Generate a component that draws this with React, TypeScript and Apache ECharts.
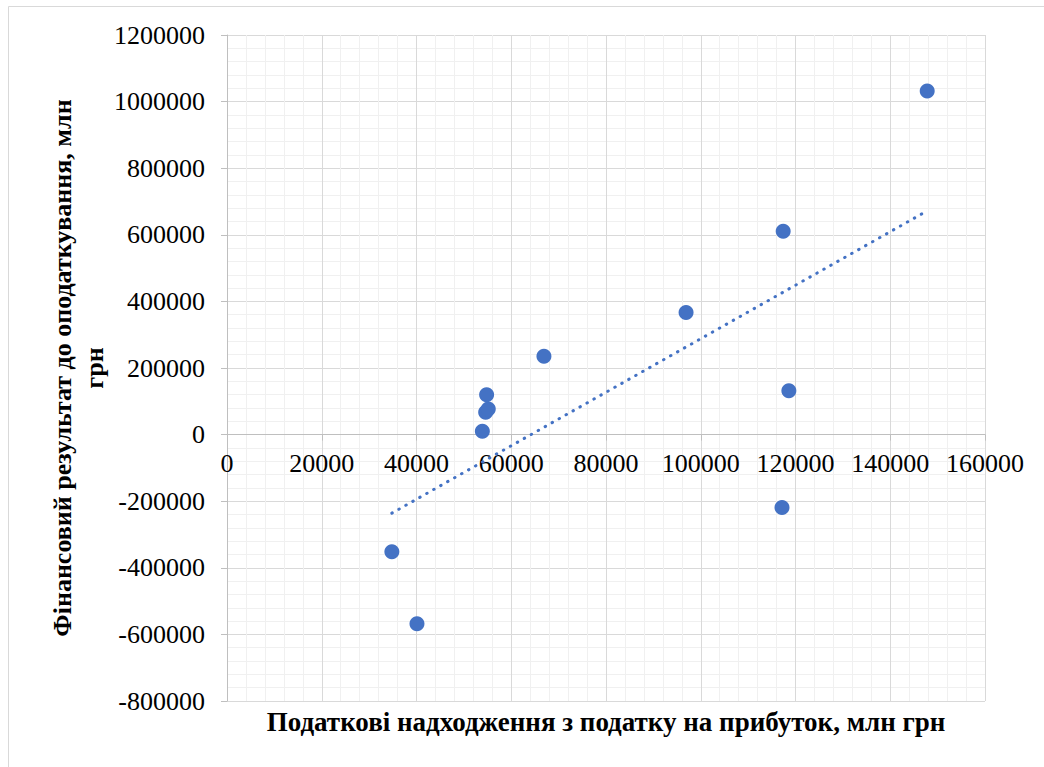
import React, { useEffect, useRef } from "react";
import * as echarts from "echarts";

const xValues = [34800, 40100, 53900, 54600, 55150, 54800, 66900, 96900, 117400, 118600, 117150, 147800];
const yValues = [-352000, -568000, 10000, 67000, 77000, 120000, 235000, 367000, 611000, 132000, -219000, 1032000];

const xTicks = { min: 0, max: 160000, interval: 20000 };
const yTicks = { min: -800000, max: 1200000, interval: 200000 };

const xTitle = "Податкові надходження з податку на прибуток, млн грн";
const yTitle = "Фінансовий результат до оподаткування, млн\nгрн";

const COLOR = "#4472C4";
const FONT = "'Liberation Serif', 'Times New Roman', serif";

function trend(xs: number[], ys: number[]) {
  const n = xs.length;
  const mx = xs.reduce((a, b) => a + b, 0) / n;
  const my = ys.reduce((a, b) => a + b, 0) / n;
  let sxy = 0, sxx = 0;
  for (let i = 0; i < n; i++) {
    sxy += (xs[i] - mx) * (ys[i] - my);
    sxx += (xs[i] - mx) * (xs[i] - mx);
  }
  const b = sxy / sxx;
  const a = my - b * mx;
  const x0 = Math.min(...xs);
  const x1 = Math.max(...xs);
  return [[x0, a + b * x0], [x1, a + b * x1]];
}

const GRID_TOP = 35;
const GRID_BOTTOM = 66;
const GRID_H = 767 - GRID_TOP - GRID_BOTTOM;

export default function App() {
  const ref = useRef<HTMLDivElement>(null);
  useEffect(() => {
    if (!ref.current) return;
    const chart = echarts.init(ref.current, null, { renderer: "svg" });
    const zeroOffset = -((0 - yTicks.min) / (yTicks.max - yTicks.min)) * GRID_H;
    const axisCommon = {
      type: "value" as const,
      axisLine: { show: true, onZero: false, lineStyle: { color: "#bfbfbf", width: 1 } },
      axisTick: { show: true, length: 6, lineStyle: { color: "#bfbfbf" } },
      axisLabel: {
        color: "#000",
        fontFamily: FONT,
        fontSize: 26,
        formatter: (v: number) => String(v),
      },
      splitLine: { show: true, lineStyle: { color: "#d9d9d9", width: 1 } },
      minorTick: { show: false, splitNumber: 5 },
      minorSplitLine: { show: true, lineStyle: { color: "#f0f0f0", width: 1 } },
    };
    chart.setOption({
      animation: false,
      backgroundColor: "#fff",
      grid: { left: 227, right: 59, top: GRID_TOP, bottom: GRID_BOTTOM, containLabel: false },
      xAxis: {
        ...axisCommon,
        min: xTicks.min,
        max: xTicks.max,
        interval: xTicks.interval,
        offset: zeroOffset,
        axisLabel: { ...axisCommon.axisLabel, margin: 16 },
      },
      yAxis: {
        ...axisCommon,
        min: yTicks.min,
        max: yTicks.max,
        interval: yTicks.interval,
        axisLabel: { ...axisCommon.axisLabel, margin: 22 },
      },
      graphic: [
        {
          type: "rect",
          shape: { x: 8.5, y: 6.5, width: 1100, height: 800 },
          style: { fill: "none", stroke: "#d9d9d9", lineWidth: 1 },
          silent: true,
        },
        {
          type: "text",
          x: 606,
          y: 722,
          style: {
            text: xTitle,
            fontFamily: FONT,
            fontWeight: "bold",
            fontSize: 27,
            fill: "#000",
            textAlign: "center",
            textVerticalAlign: "middle",
          },
        },
        {
          type: "text",
          x: 78,
          y: 368,
          rotation: Math.PI / 2,
          style: {
            text: yTitle,
            fontFamily: FONT,
            fontWeight: "bold",
            fontSize: 26,
            lineHeight: 32,
            fill: "#000",
            textAlign: "center",
            textVerticalAlign: "middle",
          },
        },
      ],
      series: [
        {
          type: "line",
          data: trend(xValues, yValues),
          showSymbol: false,
          symbol: "none",
          lineStyle: { color: COLOR, width: 3, type: [0.5, 7.5], cap: "round" },
          z: 2,
        },
        {
          type: "scatter",
          data: xValues.map((x, i) => [x, yValues[i]]),
          symbol: "circle",
          symbolSize: 15,
          itemStyle: { color: COLOR, opacity: 1 },
          z: 3,
        },
      ],
    });
    return () => chart.dispose();
  }, []);
  return (
    <div
      ref={ref}
      style={{ position: "absolute", left: 0, top: 0, width: 1044, height: 767 }}
    />
  );
}
